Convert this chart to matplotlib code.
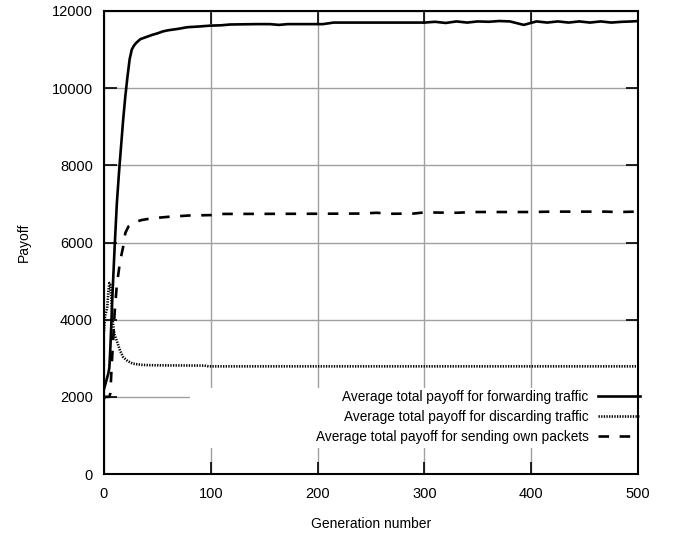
import matplotlib
matplotlib.use("Agg")
import matplotlib.pyplot as plt
from matplotlib.patches import Rectangle

plt.rcParams['font.family'] = ['Liberation Sans', 'DejaVu Sans']

# ---- data ----
fwd_gen = [0, 2, 4, 5, 6, 7, 8, 9, 10, 12, 14, 16, 18, 20, 22, 24, 26, 28, 30, 34,
           40, 45, 50, 55, 60, 70, 78, 90, 99, 110, 118, 130, 143, 155, 164, 172, 180,
           205, 215, 245, 300, 310, 320, 330, 340, 350, 360, 370, 380, 393, 405, 415,
           425, 435, 445, 455, 465, 475, 485, 495, 500]
fwd_val = [2200, 2400, 2600, 2750, 3300, 4000, 4700, 5300, 5900, 7000, 7800, 8500, 9200,
           9800, 10300, 10750, 11000, 11100, 11170, 11270, 11330, 11380, 11420, 11470,
           11500, 11540, 11580, 11600, 11620, 11630, 11650, 11655, 11660, 11660, 11640,
           11660, 11660, 11660, 11700, 11700, 11700, 11720, 11690, 11730, 11700, 11730,
           11720, 11740, 11730, 11640, 11730, 11700, 11730, 11700, 11730, 11700, 11730,
           11700, 11720, 11730, 11740]

dis_gen = [0, 1, 2, 3, 4, 5, 6, 7, 8, 9, 10, 12, 15, 18, 22, 27, 35, 43, 60, 94, 98, 200, 300, 400, 500]
dis_val = [3700, 4100, 4200, 4300, 4700, 4950, 4900, 4500, 4000, 3750, 3600, 3450, 3200,
           3030, 2930, 2860, 2830, 2820, 2815, 2810, 2790, 2790, 2790, 2790, 2790]

own_gen = [0, 1, 3, 5, 6, 7, 8, 9, 10, 12, 15, 18, 20, 23, 28, 35, 43, 50, 62, 80, 100,
           108, 200, 240, 255, 270, 290, 300, 330, 345, 400, 420, 470, 480, 500]
own_val = [1950, 2000, 2000, 2000, 2100, 2700, 3200, 3700, 4200, 4900, 5500, 5900, 6250,
           6420, 6520, 6580, 6620, 6640, 6670, 6700, 6710, 6740, 6745, 6750, 6770, 6745,
           6750, 6780, 6770, 6790, 6790, 6800, 6800, 6790, 6800]

labels = ["Average total payoff for forwarding traffic",
          "Average total payoff for discarding traffic",
          "Average total payoff for sending own packets"]

x_ticks = [0, 100, 200, 300, 400, 500]
y_ticks = [0, 2000, 4000, 6000, 8000, 10000, 12000]

# ---- figure ----
fig = plt.figure(figsize=(6.86, 5.35), dpi=100)
ax = fig.add_axes([104/686, 1 - 474/535, 534/686, 463/535])

ax.plot(fwd_gen, fwd_val, color='black', lw=1.9, label=labels[0], zorder=3)
ax.plot(dis_gen, dis_val, color='black', lw=1.9, linestyle=(0, (0.5, 0.5)), label=labels[1], zorder=3)
ax.plot(own_gen, own_val, color='black', lw=1.9, linestyle=(0, (4, 4)), label=labels[2], zorder=3)

ax.set_xlim(0, 500)
ax.set_ylim(0, 12000)
ax.set_xticks(x_ticks)
ax.set_yticks(y_ticks)
ax.grid(True, color='#a0a0a0', lw=1.0, zorder=1)
ax.set_axisbelow(True)

ax.tick_params(direction='in', length=9, width=1.2, top=True, right=True,
               labelsize=10.5, colors='black')
ax.tick_params(axis='x', pad=9)
ax.tick_params(axis='y', pad=8)
for s in ax.spines.values():
    s.set_linewidth(1.5)
    s.set_zorder(5)

# white key box covering the grid
ax.add_patch(Rectangle(((190-104)/534, (474-448)/463), 1 - (190-104)/534, 60/463,
                       transform=ax.transAxes, facecolor='white', edgecolor='none', zorder=2))

leg = ax.legend(loc='center right', bbox_to_anchor=(1.004, (474-417)/463),
                frameon=False, markerfirst=False, fontsize=9.8, handlelength=3.1,
                handletextpad=0.7, labelspacing=0.45, borderpad=0, borderaxespad=0)
leg.set_zorder(6)

ax.set_xlabel("Generation number", fontsize=10, labelpad=12)
ax.set_ylabel("Payoff", fontsize=10, labelpad=15)

fig.savefig("out.png", dpi=100)
